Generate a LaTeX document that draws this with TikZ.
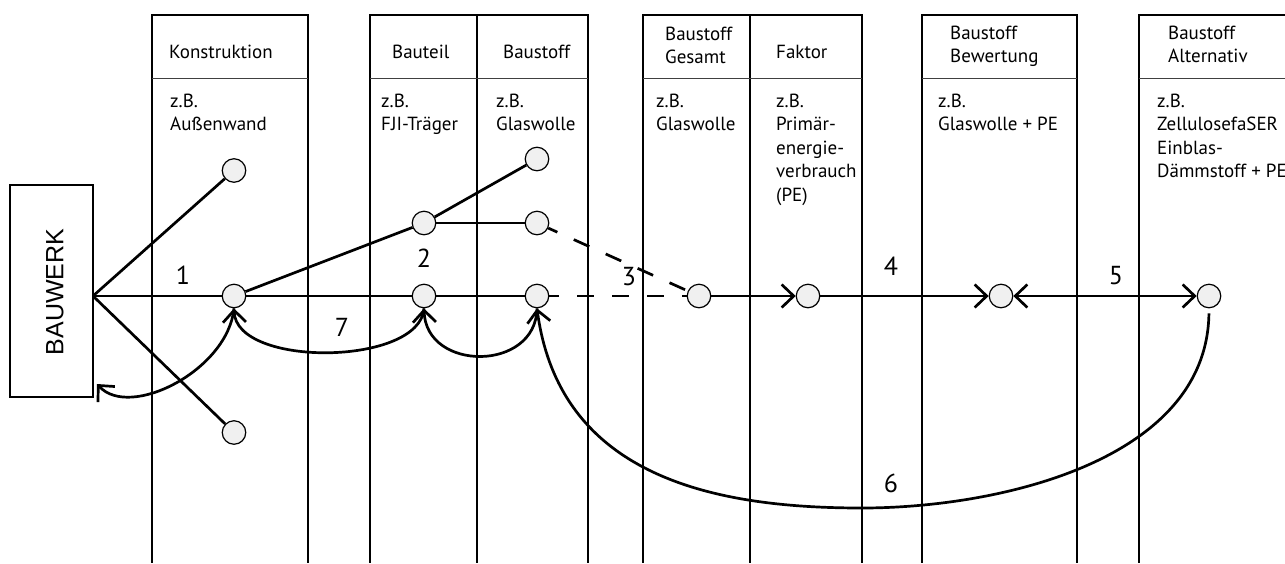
\documentclass[tikz,border=0pt]{standalone}
\usepackage{fontspec}
\setmainfont{PT Sans}
\newfontfamily\bwfont{Liberation Sans}
\usetikzlibrary{arrows.meta}
\newcommand{\mylines}[1]{\begin{tabular}[t]{@{}l@{}}#1\end{tabular}}
\begin{document}
\begin{tikzpicture}[x=1pt,y=-1pt,
  col/.style={line width=1.4pt},
  colthick/.style={line width=2.7pt},
  sepline/.style={line width=1.7pt, black!75},
  txt/.style={anchor=base west, inner sep=0pt, font=\fontsize{19}{23.5}\selectfont},
  num/.style={inner sep=0pt, font=\fontsize{26}{28}\selectfont},
  dot/.style={circle, draw, line width=1.2pt, fill=black!6, minimum size=23.5pt, inner sep=0pt},
  conn/.style={line width=2.7pt},
  dashconn/.style={line width=2.7pt, dash pattern=on 17pt off 18pt, dash phase=7pt},
  arr/.style={-{Straight Barb[length=12pt,width=23pt]}},
  arrboth/.style={{Straight Barb[length=12pt,width=23pt]}-{Straight Barb[length=12pt,width=23pt]}},
]
\useasboundingbox (0,0) rectangle (1285,563);

% columns
\foreach \x in {152,308,370,588,643,750,862,922,1077,1139}
  \draw[col] (\x,14.3) -- (\x,563);
\draw[colthick] (477,14.3) -- (477,563);
\foreach \a/\b in {152/308,370/588,643/862,922/1077,1139/1290} {
  \draw[col] (\a,15) -- (\b,15);
  \draw[sepline] (\a,78.5) -- (\b,78.5);
}

% header texts
\node[txt] (hK) at (169,58) {Konstruktion};
\node[txt] (hBt) at (392,58) {Bauteil};
\node[txt] (hBs) at (503,58) {Baustoff};
\node[txt] (hG) at (665,40) {\mylines{Baustoff\\Gesamt}};
\node[txt] (hF) at (776,58) {Faktor};
\node[txt] (hBw) at (950,39) {\mylines{Baustoff\\Bewertung}};
\node[txt] (hA) at (1168,39) {\mylines{Baustoff\\Alternativ}};

% body texts
\node[txt] (bK) at (170,107) {\mylines{z.B.\\Außenwand}};
\node[txt] (bBt) at (381,107) {\mylines{z.B.\\FJI-Träger}};
\node[txt] (bBs) at (496,107) {\mylines{z.B.\\Glaswolle}};
\node[txt] (bG) at (656,107) {\mylines{z.B.\\Glaswolle}};
\node[txt] (bF) at (776,107) {\mylines{z.B.\\Primär-\\energie-\\verbrauch\\(PE)}};
\node[txt] (bBw) at (938,107) {\mylines{z.B.\\Glaswolle + PE}};
\node[txt] (bA) at (1157,107) {\mylines{z.B.\\ZellulosefaSER\\Einblas-\\Dämmstoff + PE}};

% Bauwerk box
\node[draw, line width=1.3pt, minimum width=83pt, minimum height=212pt, inner sep=0pt] (bw) at (51.5,291) {};
\node[rotate=90, inner sep=0pt, font=\bwfont\fontsize{25}{25}\selectfont] (bwt) at (55,292) {BAUWERK};
\coordinate (hub) at (93,296);
\coordinate (bwin) at (97,384);

% dots
\node[dot] (kt) at (234,170.5) {};
\node[dot] (km) at (234,296) {};
\node[dot] (kb) at (234,432.5) {};
\node[dot] (bt) at (424,223) {};
\node[dot] (bm) at (424,296) {};
\node[dot] (st) at (537,159) {};
\node[dot] (su) at (537,223) {};
\node[dot] (sm) at (537,296) {};
\node[dot] (g) at (699,296) {};
\node[dot] (f) at (808,296) {};
\node[dot] (bv) at (1001,296) {};
\node[dot] (a) at (1209,296) {};

% straight connectors
\draw[conn] (hub) -- (kt);
\draw[conn] (hub) -- (km);
\draw[conn] (hub) -- (kb);
\draw[conn] (km) -- (bt);
\draw[conn] (bt) -- (st);
\draw[conn] (bt) -- (su);
\draw[conn] (km) -- (bm);
\draw[conn] (bm) -- (sm);
\draw[dashconn] (su) -- (g);
\draw[dashconn] (sm) -- (g);
\draw[conn,arr] (g) -- (f);
\draw[conn,arr] (f) -- (bv);
\draw[conn,arrboth] (bv) -- (a);

% curved connectors
\draw[conn,arr,shorten <=5pt] (a.south) .. controls (1207,460) and (1000,508) .. (862,508)
   .. controls (720,508) and (560,480) .. (sm.south);
\draw[conn,arr] (sm.south) .. controls (536,372) and (426,372) .. (bm.south);
\draw[conn,arr] (bm.south) .. controls (420,366) and (236,368) .. (km.south);
\draw[conn,arr] (km.south) .. controls (228,370) and (130,420) .. (bwin);

% numbers
\node[num] (n1) at (183,275) {1};
\node[num] (n2) at (424,258) {2};
\node[num] (n3) at (629,277) {3};
\node[num] (n4) at (891,266) {4};
\node[num] (n5) at (1116,276) {5};
\node[num] (n6) at (891,483) {6};
\node[num] (n7) at (342,327) {7};
\end{tikzpicture}
\end{document}
